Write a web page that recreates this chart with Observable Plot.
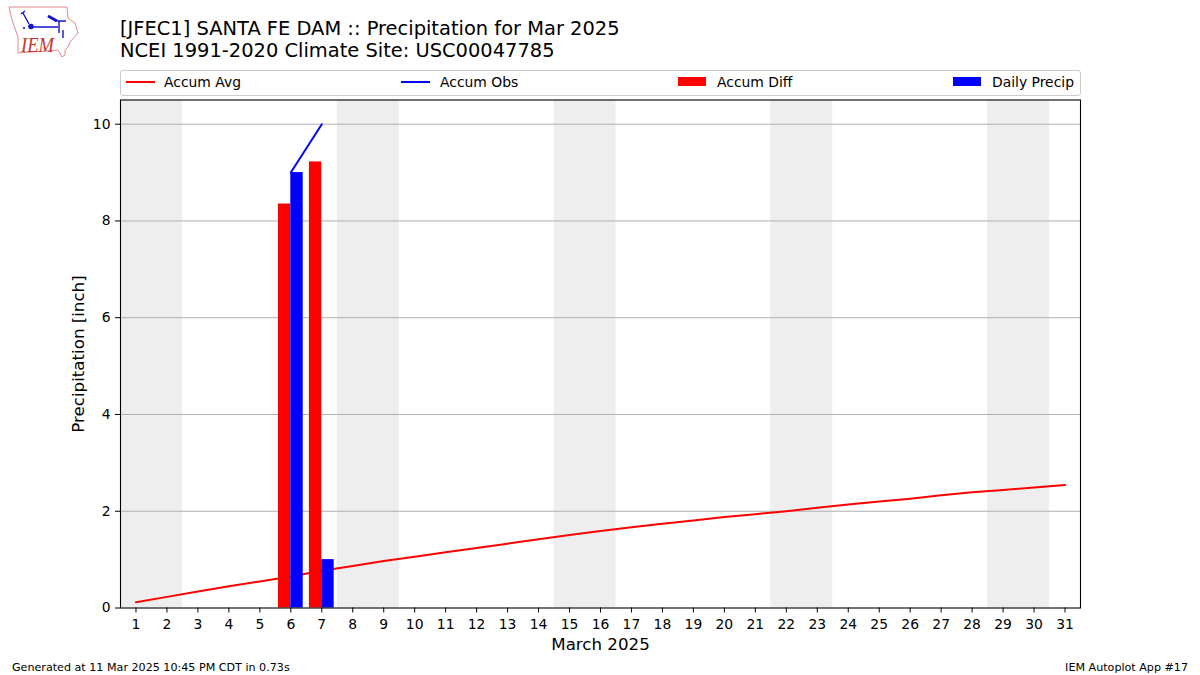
<!DOCTYPE html>
<html><head><meta charset="utf-8">
<script src="https://cdn.jsdelivr.net/npm/d3@7"></script>
<script src="https://cdn.jsdelivr.net/npm/@observablehq/plot@0.6"></script>
<style>
html,body{margin:0;padding:0;background:#fff;width:1200px;height:675px;overflow:hidden;font-family:"DejaVu Sans",sans-serif;color:#000}
#chart{position:absolute;left:0;top:0}
.abs{position:absolute;white-space:nowrap}
.title{left:120px;font-size:19.45px;line-height:22px}
.foot{top:660px;font-size:11.13px;line-height:13px}
#legend{position:absolute;left:120px;top:70px;width:959px;height:24px;border:1px solid #ccc;border-radius:3px;background:#fff}
#legend span{position:absolute;top:2.5px;font-size:13.9px;line-height:17px;white-space:nowrap}
#legend i{position:absolute;display:block}
</style></head><body>
<div id="chart"></div>
<svg class="abs" style="left:0;top:0" width="90" height="65" viewBox="0 0 90 65">
<path d="M9 7L67 7L68 18L75 23L78 33L70 42L68 47L65 50L65 55L62 57L58 50L18 53L18 37L12 20Z" fill="none" stroke="#e38b8b" stroke-width="1"/>
<path d="M23 13L29 24M31 27L58 27M57 21L66 21M59 21L59 33M63 30L63 38M21 14L25 11" fill="none" stroke="#1414d0" stroke-width="1.4"/>
<path d="M48 16L57 21" fill="none" stroke="#1414d0" stroke-width="3"/>
<circle cx="31" cy="26.5" r="2.8" fill="#1414d0"/>
<circle cx="24" cy="28" r="1.1" fill="#1414d0"/>
<text x="21" y="52" font-family="Liberation Serif" font-style="italic" font-size="21" fill="#cc3333" textLength="33" lengthAdjust="spacingAndGlyphs">IEM</text>
</svg>
<div class="abs title" style="top:18px">[JFEC1] SANTA FE DAM :: Precipitation for Mar 2025</div>
<div class="abs title" style="top:40px">NCEI 1991-2020 Climate Site: USC00047785</div>
<div id="legend">
<i style="left:5px;top:10px;width:29px;height:2px;background:#f00"></i><span style="left:43px">Accum Avg</span>
<i style="left:280px;top:10px;width:29px;height:2px;background:#00f"></i><span style="left:319px">Accum Obs</span>
<i style="left:557px;top:6px;width:28px;height:9px;background:#f00"></i><span style="left:596px">Accum Diff</span>
<i style="left:832px;top:6px;width:28px;height:9px;background:#00f"></i><span style="left:871px">Daily Precip</span>
</div>
<div class="abs foot" style="left:12px;top:660.5px">Generated at 11 Mar 2025 10:45 PM CDT in 0.73s</div>
<div class="abs foot" style="right:12px;top:660.5px">IEM Autoplot App #17</div>
<script>
const days = d3.range(1, 32);
const accumAvg = [0.12,0.23,0.34,0.45,0.55,0.65,0.77,0.87,0.97,1.06,1.15,1.24,1.33,1.42,1.51,1.59,1.67,1.74,1.81,1.88,1.94,2.00,2.07,2.14,2.20,2.26,2.33,2.39,2.44,2.49,2.54];
const obsDays = [6, 7];
const accumObs = [9.0, 10.0];
const accumDiff = [8.35, 9.22];
const dailyPrecip = [9.0, 1.0];
const weekendStart = [0.5, 7.5, 14.5, 21.5, 28.5];
const weekendEnd = [2.5, 9.5, 16.5, 23.5, 30.5];
const yTicks = [0, 2, 4, 6, 8, 10];
const barWidth = 0.4;

const avgRows = days.map((d, i) => ({d, v: accumAvg[i]}));
const obsRows = obsDays.map((d, i) => ({d, obs: accumObs[i], diff: accumDiff[i], daily: dailyPrecip[i]}));
const weekends = weekendStart.map((s, i) => ({s, e: weekendEnd[i]}));
const FS = 13.9;

const plot = Plot.plot({
  width: 1200, height: 675,
  marginLeft: 120, marginRight: 120, marginTop: 99.5, marginBottom: 67.5,
  style: {fontFamily: '"DejaVu Sans", sans-serif', background: "transparent", overflow: "visible"},
  x: {type: "linear", domain: [0.5, 31.5]},
  y: {domain: [0, 10.5]},
  marks: [
    Plot.rectX(weekends, {x1: "s", x2: "e", y1: 0, y2: 10.5, fill: "#eeeeee"}),
    Plot.gridY(yTicks.slice(1), {stroke: "#b0b0b0", strokeOpacity: 1, strokeWidth: 1}),
    Plot.line(avgRows, {x: "d", y: "v", stroke: "#ff0000", strokeWidth: 2}),
    Plot.line(obsRows, {x: "d", y: "obs", stroke: "#0000ff", strokeWidth: 2}),
    Plot.rect(obsRows, {x1: d => d.d - barWidth, x2: "d", y1: 0, y2: "diff", fill: "#ff0000"}),
    Plot.rect(obsRows, {x1: "d", x2: d => d.d + barWidth, y1: 0, y2: "daily", fill: "#0000ff"}),
    Plot.frame({stroke: "#000", strokeWidth: 1.1}),
    Plot.axisX(days, {anchor: "bottom", tickSize: 5, tickPadding: 6, tickFormat: d => String(d), fontSize: FS, label: null, stroke: "#000", color: "#000"}),
    Plot.axisY(yTicks, {anchor: "left", tickSize: 5, tickPadding: 5, fontSize: FS, label: null, stroke: "#000", color: "#000"}),
    Plot.text(["March 2025"], {frameAnchor: "bottom", dy: 41.5, fontSize: 16.67, fill: "#000"}),
    Plot.text(["Precipitation [inch]"], {frameAnchor: "left", dx: -42, rotate: -90, textAnchor: "middle", fontSize: 16.67, fill: "#000"})
  ]
});
document.getElementById("chart").append(plot);
</script>
</body></html>
